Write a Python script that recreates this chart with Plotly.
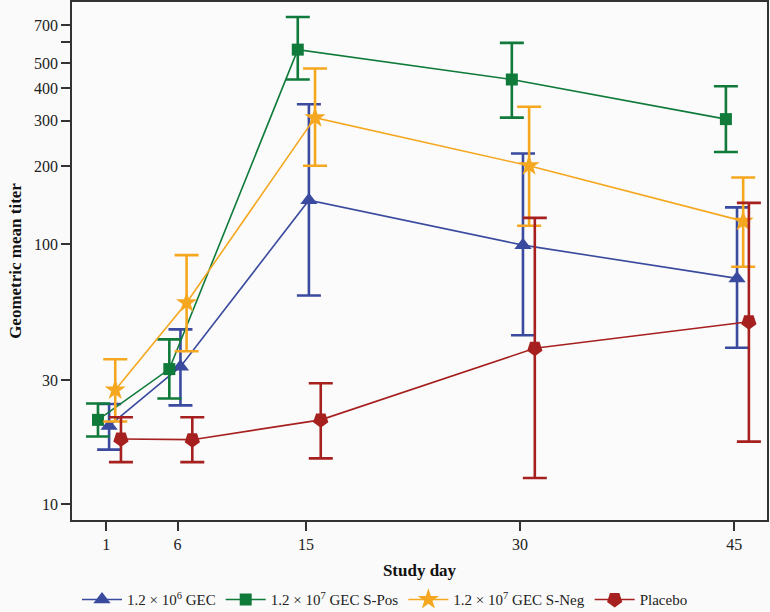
import plotly.graph_objects as go

days = [1, 6, 15, 30, 45]

# 1.2 x 10^6 GEC
low_gmt = [20.0, 33.8, 148, 99.4, 74]
low_upper = [24.3, 47.1, 347, 224, 139]
low_lower = [16.2, 24.0, 63.6, 44.7, 40]

# 1.2 x 10^7 GEC S-Pos
pos_gmt = [21.1, 33.1, 563, 432, 304]
pos_upper = [24.4, 43.1, 752, 598, 407]
pos_lower = [18.2, 25.5, 432, 308, 227]

# 1.2 x 10^7 GEC S-Neg
neg_gmt = [27.5, 59.6, 308, 201, 123]
neg_upper = [36.1, 91, 476, 339, 181]
neg_lower = [20.8, 38.8, 201, 118, 82]

# Placebo
plc_gmt = [17.8, 17.7, 21.1, 39.8, 50.4]
plc_upper = [21.6, 21.6, 29.2, 126.6, 144.6]
plc_lower = [14.5, 14.5, 15.0, 12.6, 17.4]

series = [
    ("1.2 × 10<sup>6</sup> GEC", low_gmt, low_upper, low_lower, "#3a4a9e", "triangle-up", 0.2, 0, 15),
    ("1.2 × 10<sup>7</sup> GEC S-Pos", pos_gmt, pos_upper, pos_lower, "#0f7a3a", "square", -0.58, 0, 12),
    ("1.2 × 10<sup>7</sup> GEC S-Neg", neg_gmt, neg_upper, neg_lower, "#f5a71f", "star", 0.63, 0, 16),
    ("Placebo", plc_gmt, plc_upper, plc_lower, "#a6201f", "pentagon", 1.03, 180, 16),
]

fig = go.Figure()
for name, gmt, up, lo, color, sym, off, ang, size in series:
    fig.add_trace(go.Scatter(
        x=[d + off for d in days],
        y=gmt,
        name=name,
        mode="lines+markers",
        line=dict(color=color, width=1.6),
        marker=dict(symbol=sym, size=size, color=color, angle=ang,
                    line=dict(width=0)),
        error_y=dict(type="data", symmetric=False,
                     array=[u - g for u, g in zip(up, gmt)],
                     arrayminus=[g - l for g, l in zip(gmt, lo)],
                     color=color, thickness=2.6, width=12),
    ))

font_family = "Liberation Serif"
fig.update_layout(
    width=770, height=612,
    margin=dict(l=72, r=3, t=2, b=92, autoexpand=False),
    paper_bgcolor="#fafafa",
    plot_bgcolor="#fbfbfb",
    font=dict(family=font_family, color="#222", size=16),
    showlegend=True,
    legend=dict(orientation="h", xref="container", yref="paper",
                x=0.5, xanchor="center", y=-0.154, yanchor="middle",
                font=dict(family=font_family, size=15, color="#222"),
                bgcolor="rgba(0,0,0,0)", itemwidth=40, tracegroupgap=0),
)
fig.update_xaxes(
    range=[-1.4, 47.3],
    tickvals=days, ticktext=[str(d) for d in days],
    ticks="outside", ticklen=9, tickwidth=1.5, tickcolor="#333",
    showline=True, linecolor="#333", linewidth=1.5, mirror=True,
    showgrid=False, zeroline=False,
    tickfont=dict(family=font_family, size=16, color="#222"),
    title=dict(text="<b>Study day</b>", font=dict(family=font_family, size=17, color="#111"), standoff=12),
)
ytick_vals = [10, 30, 100, 200, 300, 400, 500, 600, 700]
ytick_text = ["10", "30", "100", "200", "300", "400", "500", "", "700"]
fig.update_yaxes(
    type="log",
    range=[0.9385, 2.934],
    tickvals=ytick_vals, ticktext=ytick_text,
    ticks="outside", ticklen=9, tickwidth=1.5, tickcolor="#333",
    showline=True, linecolor="#333", linewidth=1.5, mirror=True,
    showgrid=False, zeroline=False,
    tickfont=dict(family=font_family, size=16, color="#222"),
    title=dict(text="<b>Geometric mean titer</b>", font=dict(family=font_family, size=17, color="#111"), standoff=8),
)

fig.write_html("out.html",
               config={"displayModeBar": False},
               post_script="document.body.style.margin='0';document.body.style.background='#fafafa';")
